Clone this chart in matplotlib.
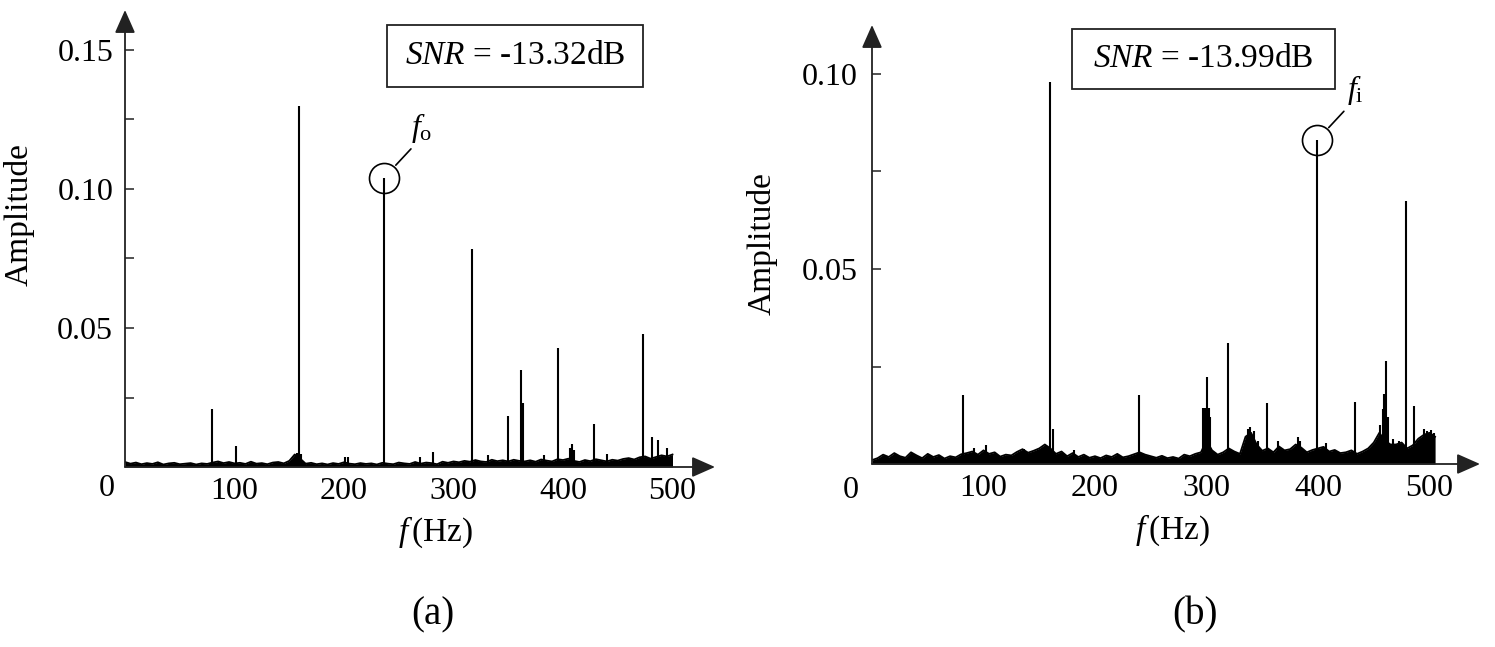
import numpy as np
import matplotlib
matplotlib.use("Agg")
import matplotlib.pyplot as plt
from matplotlib.patches import Rectangle

plt.rcParams['font.family'] = ['Liberation Serif', 'DejaVu Serif']
plt.rcParams['mathtext.fontset'] = 'custom'
plt.rcParams['mathtext.rm'] = 'Liberation Serif'
plt.rcParams['mathtext.it'] = 'Liberation Serif:italic'

# ---------------- data ----------------
# noise floor, sampled every 5 Hz (amplitude x 1e-3)
noise_freq_a = np.arange(0, 501, 5)
noise_amp_a = np.array([
    1.8, 1.2, 1.6, 1.0, 1.4, 1.1, 1.7, 0.9, 1.3, 1.5, 1.0,
    1.2, 1.4, 0.9, 1.3, 1.1, 1.6, 2.0, 1.4, 1.8, 1.3,
    1.5, 1.1, 1.9, 1.2, 1.4, 1.0, 1.6, 1.8, 1.3, 2.2,
    4.5, 3.0, 1.2, 1.5, 1.0, 1.3, 0.9, 1.4, 1.1, 1.7,
    1.2, 1.0, 1.4, 1.1, 1.3, 0.9, 1.5, 1.2, 1.0, 1.6,
    1.3, 1.1, 1.8, 1.2, 1.6, 1.4, 1.0, 1.9, 1.5, 2.0,
    1.7, 2.2, 1.9, 2.5, 2.0, 1.8, 2.6, 2.1, 2.4, 2.0,
    2.6, 2.2, 2.0, 2.4, 1.9, 2.7, 2.3, 2.0, 2.8, 2.5,
    3.0, 2.2, 1.8, 2.5, 2.1, 2.8, 2.4, 2.0, 2.6, 2.3,
    2.9, 3.2, 2.7, 3.5, 3.8, 3.0, 3.6, 4.2, 3.8, 4.5]) * 1e-3

peak_freq_a = [79.5, 101, 157.5, 159, 160.5, 201, 204, 236.5, 269, 281,
               317, 331.5, 349.5, 362, 363.2, 382.5, 395, 406, 408, 410,
               428, 440, 473, 481, 487, 495]
peak_amp_a = [0.0209, 0.0076, 0.0050, 0.130, 0.0045, 0.0036, 0.0036, 0.104, 0.0036, 0.0054,
              0.0784, 0.0043, 0.0183, 0.0349, 0.023, 0.0043, 0.0428, 0.0070, 0.0083, 0.0060,
              0.0155, 0.0047, 0.048, 0.0108, 0.0097, 0.0068]

noise_freq_b = np.arange(0, 506, 5)
noise_amp_b = np.array([
    1.0, 1.5, 2.4, 1.8, 2.8, 2.0, 1.6, 3.0, 2.2, 1.5, 2.6,
    1.8, 2.3, 1.4, 2.0, 1.7, 2.5, 2.8, 3.2, 2.4, 3.5,
    2.6, 3.0, 1.9, 2.4, 2.2, 3.1, 3.8, 2.9, 3.4, 4.0,
    5.0, 4.0, 2.6, 3.2, 2.0, 2.8, 1.8, 2.4, 1.6, 2.0,
    1.5, 2.2, 1.8, 2.6, 1.7, 2.0, 2.5, 3.0, 2.4, 2.0,
    1.6, 2.1, 1.5, 1.8, 1.4, 2.4, 2.0, 2.6, 3.0, 6.0,
    3.5, 2.4, 3.0, 4.0, 3.2, 2.6, 7.0, 8.0, 5.0, 3.4,
    4.0, 3.0, 4.5, 3.5, 3.8, 5.0, 4.2, 3.0, 3.6, 4.0,
    4.4, 3.2, 3.6, 2.8, 3.0, 3.5, 2.6, 3.2, 4.0, 5.5,
    8.0, 6.0, 5.0, 5.0, 5.5, 4.0, 4.8, 6.5, 7.5, 8.0, 7.0]) * 1e-3

peak_freq_b = [81.6, 91.5, 102, 136, 160, 162.5, 181, 239.5,
               297, 299, 300.4, 302, 303.5, 319, 337, 339, 343, 346,
               354, 364, 382, 384, 399, 407, 433,
               456, 458, 459.5, 461, 462.5, 467, 473, 479, 486,
               490, 495, 498, 501, 504]
peak_amp_b = [0.0177, 0.0041, 0.0049, 0.0038, 0.098, 0.009, 0.0036, 0.0177,
              0.0144, 0.0144, 0.0223, 0.0144, 0.0120, 0.031, 0.0090, 0.0095, 0.0085, 0.0060,
              0.0156, 0.0060, 0.0070, 0.0060, 0.083, 0.0054, 0.0159,
              0.0100, 0.0140, 0.0180, 0.0264, 0.0120, 0.0064, 0.0060, 0.0674, 0.0149,
              0.0060, 0.0090, 0.0085, 0.0087, 0.0080]

xtick_vals = [100, 200, 300, 400, 500]
ytick_major_a = [0.05, 0.10, 0.15]
ytick_major_b = [0.05, 0.10]
snr_a = "-13.32dB"
snr_b = "-13.99dB"
marked_a = (236.5, 0.104, r'$f_\mathrm{o}$')
marked_b = (399, 0.083, r'$f_\mathrm{i}$')

# ---------------- figure ----------------
W, H = 1495, 647
fig = plt.figure(figsize=(W / 100, H / 100), dpi=100)

def make_axes(x0, y0, x1, y1, pxhz, pxunit):
    ax = fig.add_axes([x0 / W, 1 - y0 / H, (x1 - x0) / W, (y0 - y1) / H])
    ax.set_xlim(0, (x1 - x0) / pxhz)
    ax.set_ylim(0, (y0 - y1) / pxunit)
    for s in ax.spines.values():
        s.set_visible(False)
    ax.patch.set_alpha(0)
    return ax

ax1 = make_axes(125, 467, 715, 10, 1.095, 139 / 0.05)
ax2 = make_axes(872, 464, 1480, 25, 1.115, 195 / 0.05)

panels = [
    (ax1, noise_freq_a, noise_amp_a, peak_freq_a, peak_amp_a, ytick_major_a, snr_a, marked_a,
     (387, 25, 643, 87), 19, 435, 532, 433, 615, (-18, 21), 8.5),
    (ax2, noise_freq_b, noise_amp_b, peak_freq_b, peak_amp_b, ytick_major_b, snr_b, marked_b,
     (1072, 29, 1335, 89), 762, 1172, 530, 1195, 615, (-21, 27), 10),
]

for (ax, nf, na, pf, pa, ymaj, snr, mk, box, ylx, xlx, xly, plx, ply, zoff, ypad) in panels:
    ax.fill_between(nf, 0, na, color='black', lw=0)
    ax.plot(nf, na, color='black', lw=1.3)
    ax.vlines(pf, 0, pa, color='black', lw=1.5)

    # axis lines with arrows
    ax.annotate('', xy=(0, 1), xytext=(0, 0), xycoords='axes fraction',
                arrowprops=dict(arrowstyle='-|>,head_length=0.95,head_width=0.42',
                                mutation_scale=15, color='#222222', lw=1.3,
                                shrinkA=0, shrinkB=0))
    ax.annotate('', xy=(1, 0), xytext=(0, 0), xycoords='axes fraction',
                arrowprops=dict(arrowstyle='-|>,head_length=0.95,head_width=0.42',
                                mutation_scale=15, color='#222222', lw=1.3,
                                shrinkA=0, shrinkB=0))

    ax.set_yticks([v / 2 for v in range(1, 1)] + [0.025 * k for k in range(1, 2 * len(ymaj) + 1)])
    ax.set_yticklabels(['%.2f' % t if abs(t / 0.05 - round(t / 0.05)) < 1e-6 else ''
                        for t in ax.get_yticks()])
    ax.tick_params(axis='y', direction='in', length=6.5, width=1.1, color='#222222',
                   labelsize=23, pad=ypad)
    ax.set_xticks(xtick_vals)
    ax.set_xticklabels([str(v) for v in xtick_vals])
    ax.tick_params(axis='x', length=0, labelsize=23, pad=7)
    ax.annotate('0', xy=(0, 0), xycoords='axes fraction',
                xytext=(zoff[0] * 0.72, -zoff[1] * 0.72), textcoords='offset points',
                ha='center', va='center', fontsize=23)

    # marked peak
    f0, a0, lab = mk
    ax.plot([f0], [a0], 'o', ms=21.6, mfc='none', mec='black', mew=1.2, clip_on=False)
    ax.annotate('', xy=(f0, a0), xytext=(27 * 0.72, 29 * 0.72), textcoords='offset points',
                arrowprops=dict(arrowstyle='-', color='black', lw=1.2,
                                shrinkA=0, shrinkB=12.5))
    ax.annotate(lab, xy=(f0, a0), xytext=(38 * 0.72, 50 * 0.72), textcoords='offset points',
                ha='center', va='center', fontsize=23)

    # SNR box
    bx0, by0, bx1, by1 = box
    fig.patches.append(Rectangle((bx0 / W, 1 - by1 / H), (bx1 - bx0) / W, (by1 - by0) / H,
                                 transform=fig.transFigure, fill=False, ec='#222222', lw=1.3))
    fig.text((bx0 + bx1) / 2 / W, 1 - (by0 + by1) / 2 / H, r'$\mathit{SNR}$ = ' + snr,
             ha='center', va='center', fontsize=24)

    fig.text(ylx / W, 1 - (215 if ax is ax1 else 244) / H, 'Amplitude', rotation=90,
             ha='center', va='center', fontsize=24)
    fig.text(xlx / W, 1 - xly / H, r'$f\,$(Hz)', ha='center', va='center', fontsize=24)
    fig.text(plx / W, 1 - ply / H, '(a)' if ax is ax1 else '(b)', ha='center', va='center',
             fontsize=28)

fig.savefig('out.png', dpi=100)
